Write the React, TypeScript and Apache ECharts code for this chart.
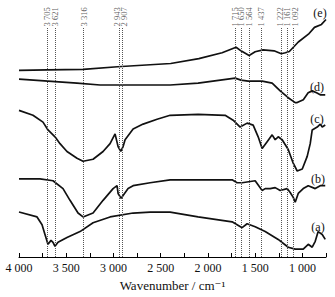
import React, { useEffect, useRef } from "react";
import * as echarts from "echarts";

// Wavenumber (cm^-1) / transmittance (arbitrary offset units)
const spectrumE: [number, number][] = [
  [4000, 191], [3700, 191.5], [3319, 192], [2957, 194.7], [2394, 198], [2096, 203],
  [1850, 209], [1702, 214.7], [1650, 211], [1564, 206.3], [1500, 210], [1415, 212],
  [1300, 211], [1223, 208], [1180, 209], [1138, 210.3], [1043, 220], [936, 228],
  [872, 235], [798, 238], [750, 243],
];
const spectrumD: [number, number][] = [
  [4000, 182], [3386, 178], [3142, 176], [2400, 176], [2104, 178], [1712, 183],
  [1650, 181], [1574, 180], [1426, 180], [1320, 178], [1235, 170], [1150, 163],
  [1076, 158], [1055, 158], [990, 161], [939, 168], [896, 170], [850, 168],
  [811, 166], [758, 166],
];
const spectrumC: [number, number][] = [
  [4000, 150], [3852, 145], [3746, 138], [3693, 130], [3619, 123], [3566, 116],
  [3492, 108], [3386, 101], [3322, 98], [3216, 100], [3110, 108], [3036, 116],
  [2983, 126], [2951, 113], [2923, 108], [2898, 113], [2877, 120], [2792, 131],
  [2686, 136], [2538, 141], [2400, 145], [2104, 146], [1818, 145], [1733, 140],
  [1659, 133], [1585, 137], [1521, 135], [1468, 123], [1426, 111], [1373, 118],
  [1320, 125], [1288, 120], [1256, 123], [1214, 120], [1150, 110], [1097, 96],
  [1055, 88], [1001, 90], [949, 103], [917, 116], [896, 130], [843, 133],
  [811, 136], [790, 133], [758, 135],
];
const spectrumB: [number, number][] = [
  [4000, 80], [3778, 80], [3640, 78], [3534, 70], [3460, 58], [3375, 45],
  [3322, 41], [3216, 45], [3110, 58], [3004, 70], [2962, 73], [2951, 65],
  [2919, 60], [2898, 63], [2845, 70], [2792, 73], [2612, 76], [2400, 79],
  [1744, 79], [1691, 76], [1638, 76], [1500, 78], [1426, 68], [1394, 70],
  [1341, 70], [1288, 71], [1235, 68], [1161, 70], [1129, 66], [1097, 61],
  [1076, 56], [1044, 65], [991, 70], [938, 73], [864, 70], [811, 73], [758, 73],
];
const spectrumA: [number, number][] = [
  [4000, 46], [3809, 41], [3756, 33], [3725, 23], [3703, 16], [3693, 13],
  [3661, 17], [3640, 15], [3619, 11], [3587, 15], [3492, 20], [3354, 26],
  [3216, 35], [3036, 41], [2792, 45], [2612, 46], [2400, 46], [2104, 41],
  [1744, 36], [1638, 30], [1585, 34], [1500, 31], [1394, 26], [1256, 18],
  [1150, 10], [1076, 8], [991, 8], [938, 13], [896, 10], [864, 16],
  [833, 26], [790, 23], [758, 18],
];

const bandPositions = [3705, 3621, 3316, 2943, 2907, 1715, 1650, 1564, 1437, 1222, 1161, 1092];
const seriesNames = ["(e)", "(d)", "(c)", "(b)", "(a)"];
const xTickLabels = [4000, 3500, 3000, 2500, 2000, 1500, 1000];

const FONT = "'Liberation Serif', 'DejaVu Serif', serif";
const BAND_TOP = 235;

const fmt = (n: number) =>
  n >= 1000 ? `${Math.floor(n / 1000)} ${String(n % 1000).padStart(3, "0")}` : String(n);

// small label nudges so that close neighbours do not collide
const labelNudge: Record<number, number> = { 2943: -2, 2907: 2, 1222: -1, 1092: 1 };

export default function App() {
  const ref = useRef<HTMLDivElement>(null);
  useEffect(() => {
    if (!ref.current) return;
    const chart = echarts.init(ref.current, undefined, { renderer: "svg" });
    const spectra = [spectrumE, spectrumD, spectrumC, spectrumB, spectrumA];
    const labelPos = [
      [320, 13],
      [317, 87],
      [317, 119],
      [318, 179],
      [318, 227],
    ];
    chart.setOption({
      animation: false,
      grid: { left: 19, right: 9, top: 0, bottom: 34 },
      xAxis: {
        type: "value",
        inverse: true,
        min: 750,
        max: 4000,
        interval: 250,
        name: "Wavenumber / cm⁻¹",
        nameLocation: "middle",
        nameGap: 22,
        nameTextStyle: { fontFamily: FONT, fontSize: 13, color: "#111" },
        axisLine: { lineStyle: { color: "#000", width: 1 } },
        axisTick: { inside: true, length: 4, lineStyle: { color: "#000" } },
        splitLine: { show: false },
        axisLabel: {
          fontFamily: FONT,
          fontSize: 12,
          color: "#111",
          margin: 5,
          formatter: (v: number) => (xTickLabels.includes(v) ? fmt(v) : ""),
        },
      },
      yAxis: { type: "value", min: 0, max: 263, show: false },
      series: [
        ...spectra.map((d, i) => ({
          type: "line",
          name: seriesNames[i],
          data: d,
          symbol: "none",
          silent: true,
          lineStyle: { color: "#111", width: 1.7 },
        })),
        {
          type: "scatter",
          symbolSize: 0,
          silent: true,
          data: bandPositions.map((b) => ({
            value: [b, BAND_TOP + 1],
            label: { offset: [0, labelNudge[b] || 0] },
          })),
          label: {
            show: true,
            position: "inside",
            rotate: 90,
            align: "left",
            verticalAlign: "middle",
            fontFamily: FONT,
            fontSize: 8.5,
            color: "#333",
            formatter: (p: any) => fmt(p.value[0]),
          },
          markLine: {
            silent: true,
            symbol: "none",
            label: { show: false },
            lineStyle: { color: "#555", type: "dotted", width: 1 },
            data: bandPositions.map((b) => [
              { coord: [b, 0] },
              { coord: [b, BAND_TOP] },
            ]),
          },
        },
      ],
      graphic: seriesNames.map((n, i) => ({
        type: "text",
        x: labelPos[i][0],
        y: labelPos[i][1],
        style: {
          text: n,
          fontFamily: FONT,
          fontSize: 12,
          fill: "#111",
          align: "center",
          verticalAlign: "middle",
        },
      })),
    });
    return () => chart.dispose();
  }, []);
  return (
    <div
      ref={ref}
      style={{ position: "fixed", left: 0, top: 0, width: 335, height: 297, background: "#fff" }}
    />
  );
}
